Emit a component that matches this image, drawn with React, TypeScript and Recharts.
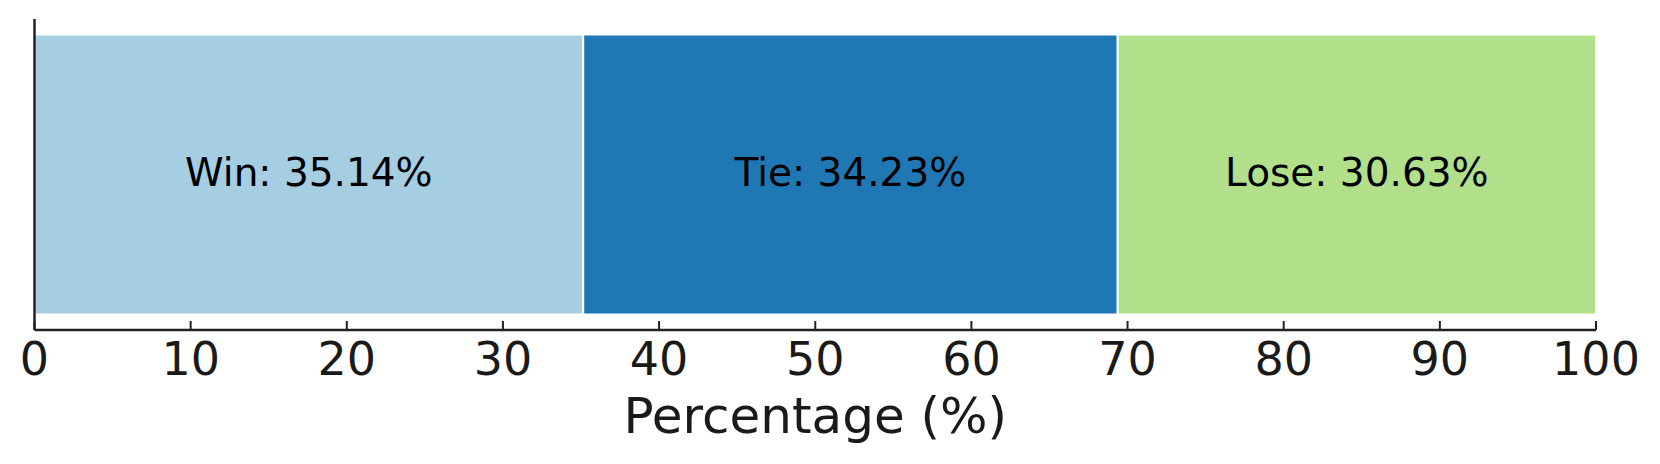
import { BarChart, Bar, XAxis, YAxis, LabelList } from "recharts";

const categories = ["Result"];
const seriesNames = ["Win", "Tie", "Lose"];
const winValues = [35.14];
const tieValues = [34.23];
const loseValues = [30.63];
const xTicks = [0, 10, 20, 30, 40, 50, 60, 70, 80, 90, 100];

const colors = ["#a6cee3", "#1f78b4", "#b2df8a"];
const FONT = "'DejaVu Sans', sans-serif";
const AXIS = "#222222";

const data = categories.map((name, i) => ({
  name,
  Win: winValues[i],
  Tie: tieValues[i],
  Lose: loseValues[i],
}));

// ticks point up into the plot like matplotlib's "in" direction
function XTick(props: any) {
  const { x, y, payload } = props;
  return (
    <g>
      <line x1={x} x2={x} y1={y - 9} y2={y} stroke={AXIS} strokeWidth={2} />
      <text
        x={x}
        y={y + 45}
        textAnchor="middle"
        fontFamily={FONT}
        fontSize={46}
        fill="#1a1a1a"
      >
        {payload.value}
      </text>
    </g>
  );
}

function makeLabel(series: string) {
  return (props: any) => {
    const { x, y, width, height, value } = props;
    const v = Array.isArray(value) ? value[1] - value[0] : Number(value);
    return (
      <text
        x={x + width / 2}
        y={y + height / 2 - 2}
        textAnchor="middle"
        dominantBaseline="central"
        fontFamily={FONT}
        fontSize={39}
        fill="#000"
      >
        {`${series}: ${v.toFixed(2)}%`}
      </text>
    );
  };
}

export default function App() {
  return (
    <div style={{ position: "absolute", left: 0, top: 0, background: "#fff" }}>
      <BarChart
        width={1660}
        height={464}
        data={data}
        layout="vertical"
        margin={{ top: 19, right: 64, bottom: 0, left: 33.5 }}
        barCategoryGap={15.5}
      >
        <XAxis
          type="number"
          domain={[0, 100]}
          ticks={xTicks}
          height={134}
          tickSize={0}
          tickMargin={0}
          tickLine={false}
          tick={<XTick />}
          axisLine={{ stroke: AXIS, strokeWidth: 2.5 }}
          label={{
            value: "Percentage (%)",
            position: "insideBottom",
            offset: 31,
            fontSize: 50,
            fontFamily: FONT,
            fill: "#1a1a1a",
          }}
        />
        <YAxis
          type="category"
          dataKey="name"
          width={1}
          tick={false}
          tickLine={false}
          axisLine={{ stroke: AXIS, strokeWidth: 2.5 }}
        />
        {seriesNames.map((s, i) => (
          <Bar
            key={s}
            dataKey={s}
            stackId="a"
            fill={colors[i]}
            stroke="#ffffff"
            strokeWidth={2}
            isAnimationActive={false}
          >
            <LabelList dataKey={s} content={makeLabel(s)} />
          </Bar>
        ))}
      </BarChart>
    </div>
  );
}
